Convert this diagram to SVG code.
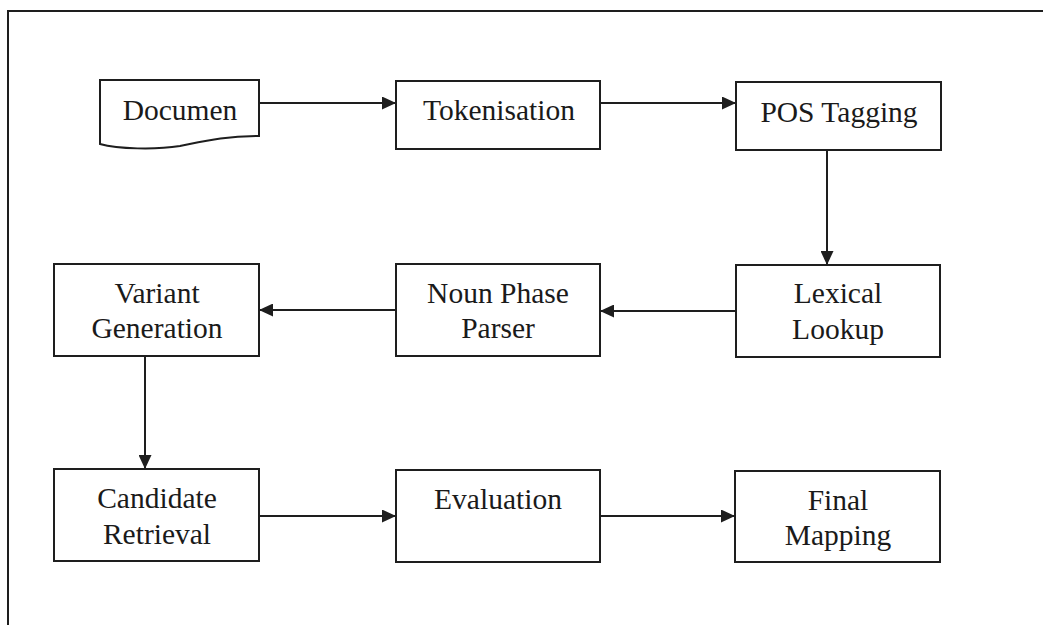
<svg xmlns="http://www.w3.org/2000/svg" width="1043" height="625" viewBox="0 0 1043 625">
  <style>
    .box { fill: #ffffff; stroke: #1e1e1e; stroke-width: 2; }
    .frame { fill: none; stroke: #1e1e1e; stroke-width: 2; }
    .edge { fill: none; stroke: #1e1e1e; stroke-width: 2; marker-end: url(#arrow); }
    .label { font-family: "Liberation Serif", "Times New Roman", serif; font-size: 29.5px; fill: #1a1a1a; text-anchor: middle; }
  </style>
  <defs>
    <marker id="arrow" viewBox="0 0 14 13" refX="14" refY="6.5" markerWidth="14" markerHeight="13" markerUnits="userSpaceOnUse" orient="auto">
      <path d="M0,0 L14,6.5 L0,13 Z" fill="#1e1e1e"/>
    </marker>
  </defs>
  <rect width="1043" height="625" fill="#ffffff"/>
  <!-- page frame: top and left edges only -->
  <path class="frame" d="M8,625 V11 H1043"/>

  <g id="connectors">
    <path class="edge" d="M259,103 H396"/>
    <path class="edge" d="M600,103 H736"/>
    <path class="edge" d="M827,150 V265"/>
    <path class="edge" d="M736,311 H600"/>
    <path class="edge" d="M396,310 H259"/>
    <path class="edge" d="M145,356 V469"/>
    <path class="edge" d="M259,516 H396"/>
    <path class="edge" d="M600,516 H735"/>
  </g>

  <g id="document">
    <path class="box" d="M100,80 H259 V136 C225,136 205,141 180,146 C155,150 118,149 100,144 Z"/>
    <text class="label" x="180" y="120">Documen</text>
  </g>
  <g id="tokenisation">
    <rect class="box" x="396" y="81" width="204" height="68"/>
    <text class="label" x="499" y="120">Tokenisation</text>
  </g>
  <g id="pos-tagging">
    <rect class="box" x="736" y="82" width="205" height="68"/>
    <text class="label" x="839" y="122">POS Tagging</text>
  </g>
  <g id="lexical-lookup">
    <rect class="box" x="736" y="265" width="204" height="92"/>
    <text class="label" x="838" y="303">Lexical</text>
    <text class="label" x="838" y="339">Lookup</text>
  </g>
  <g id="noun-phase-parser">
    <rect class="box" x="396" y="264" width="204" height="92"/>
    <text class="label" x="498" y="303">Noun Phase</text>
    <text class="label" x="498" y="338">Parser</text>
  </g>
  <g id="variant-generation">
    <rect class="box" x="54" y="264" width="205" height="92"/>
    <text class="label" x="157" y="303">Variant</text>
    <text class="label" x="157" y="338">Generation</text>
  </g>
  <g id="candidate-retrieval">
    <rect class="box" x="54" y="469" width="205" height="92"/>
    <text class="label" x="157" y="508">Candidate</text>
    <text class="label" x="157" y="544">Retrieval</text>
  </g>
  <g id="evaluation">
    <rect class="box" x="396" y="470" width="204" height="92"/>
    <text class="label" x="498" y="509">Evaluation</text>
  </g>
  <g id="final-mapping">
    <rect class="box" x="735" y="471" width="205" height="91"/>
    <text class="label" x="838" y="510">Final</text>
    <text class="label" x="838" y="545">Mapping</text>
  </g>
</svg>
